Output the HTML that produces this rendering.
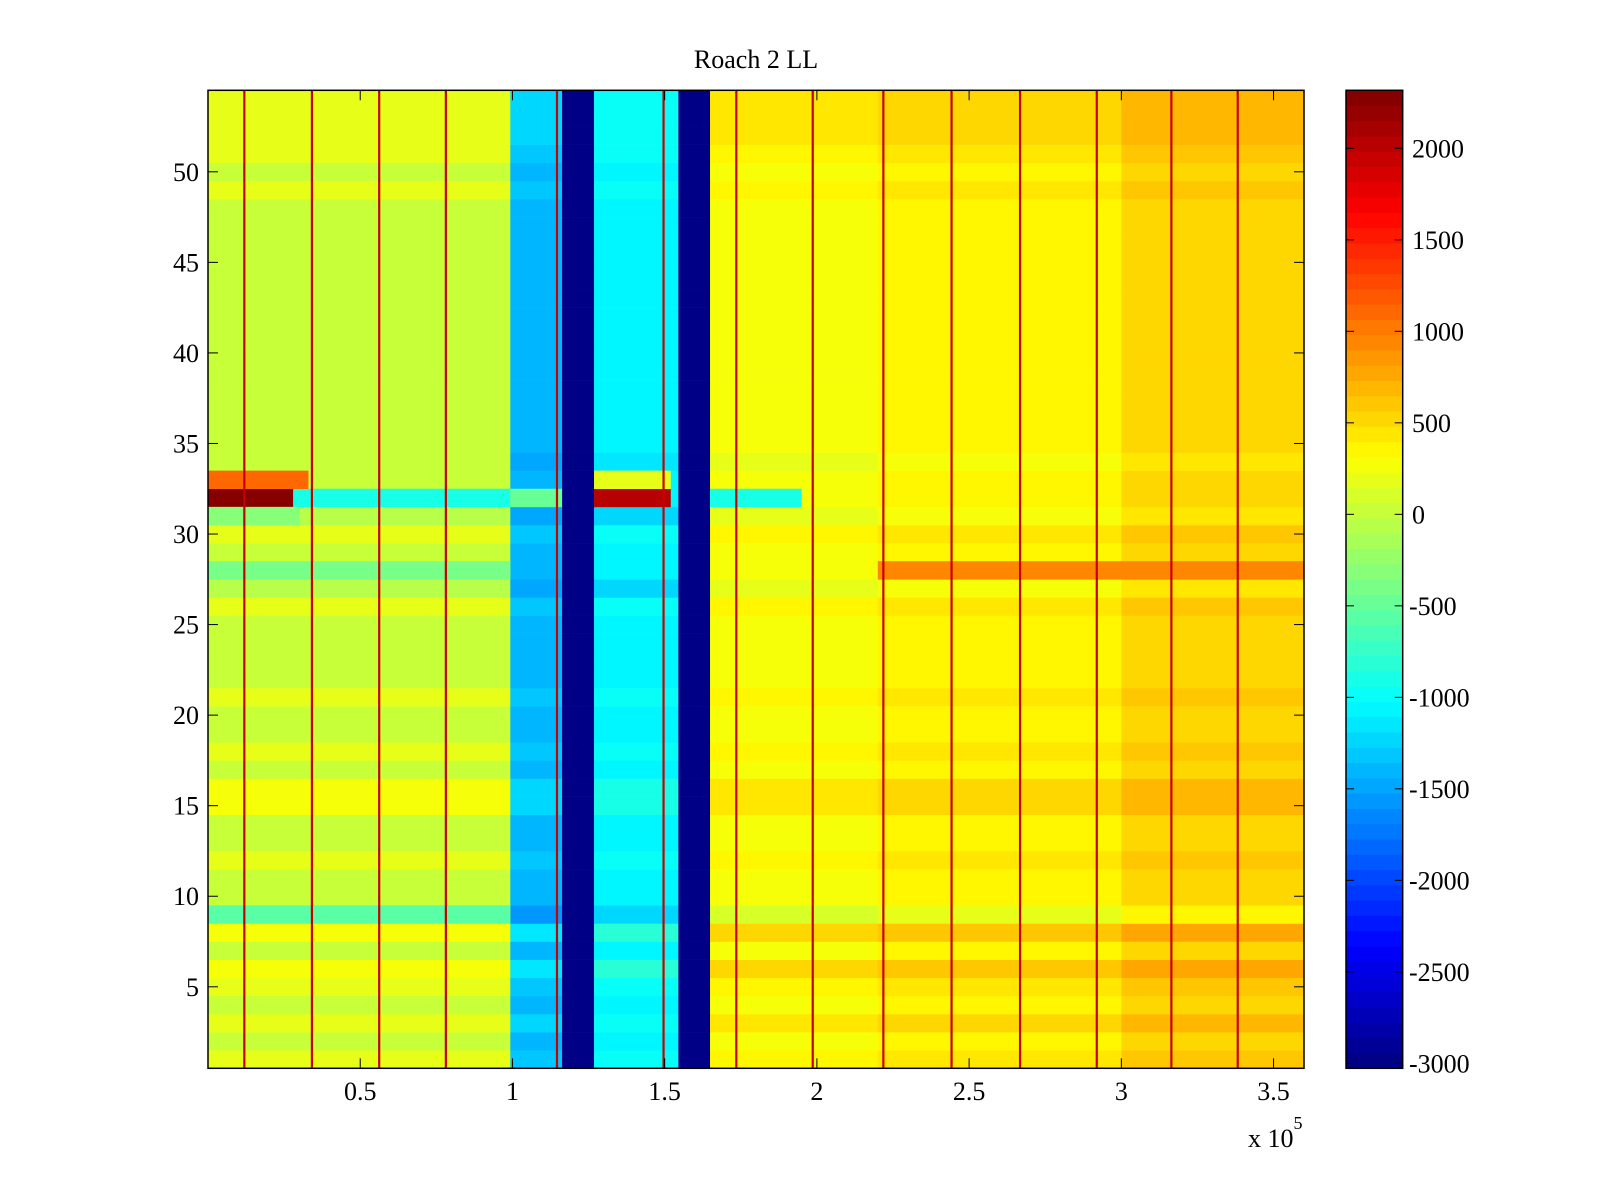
<!DOCTYPE html>
<html><head><meta charset="utf-8"><title>Roach 2 LL</title>
<style>
html,body{margin:0;padding:0;background:#fff;}
svg{display:block;font-family:"Liberation Serif","DejaVu Serif",serif;}
</style></head>
<body>
<svg id="chart" width="1600" height="1200" viewBox="0 0 1600 1200" xmlns="http://www.w3.org/2000/svg">
<rect x="0" y="0" width="1600" height="1200" fill="#fff"/>
<text x="756" y="68" font-size="26" text-anchor="middle">Roach 2 LL</text>
<g id="cells"></g>
<g id="axes"></g>
<g id="cbar"></g>
<text x="1248" y="1147" font-size="26">x 10<tspan font-size="18" dy="-18">5</tspan></text>
</svg>
<script>
// ---- data ----
const segStart = [0, 99300, 116300, 126800, 154500, 164900, 220000, 300000];
const segEnd   = [99300, 116300, 126800, 154500, 164900, 220000, 300000, 360000];
const segValue = [60, -1400, -3000, -1100, -3000, 250, 350, 520];
const rowOffset = [
  100, 0, 150, 0, 100, 250, 0, 250, -150, 0,
  0, 100, 0, 0, 200, 200, 0, 100, 0, 0,
  100, 0, 0, 0, 0, 100, -100, 0, 0, 100,
  -100, 0, 0, -50, 0, 0, 0, 0, 0, 0,
  0, 0, 0, 0, 0, 0, 0, 0, 100, 0,
  100, 150, 150, 150
];
const ovRow   = [32, 32, 32, 32, 32, 33, 33, 28, 28, 9, 31];
const ovStart = [0, 28000, 99300, 126800, 164900, 0, 126800, 220000, 0, 0, 0];
const ovEnd   = [28000, 99300, 116300, 152000, 195000, 33000, 152000, 360000, 99300, 99300, 30000];
const ovValue = [2300, -900, -500, 2000, -900, 1100, 200, 900, -400, -600, -300];
const lineX = [11900, 34100, 56200, 78100, 114600, 149600, 173500, 198600, 221800, 244200, 266700, 291900, 316400, 338200];
const lineValue = 1900;
const xTicks = [0.5, 1, 1.5, 2, 2.5, 3, 3.5];
const yTicks = [5, 10, 15, 20, 25, 30, 35, 40, 45, 50];
const cTicks = [2000, 1500, 1000, 500, 0, -500, -1000, -1500, -2000, -2500, -3000];
const nRows = 54, cMin = -3027, cMax = 2317, xMax = 360000;

// ---- geometry ----
const PL = 208, PR = 1304, PT = 90.3, PB = 1068.3;
const CL = 1346, CR = 1402.7;
const NS = "http://www.w3.org/2000/svg";
const xs = v => PL + v / xMax * (PR - PL);
const ys = r => PB - (r - 0.5) / nRows * (PB - PT);
const cs = v => PB - (v - cMin) / (cMax - cMin) * (PB - PT);
function jet(v) {
  let i = Math.floor((v - cMin) / (cMax - cMin) * 64);
  i = Math.max(0, Math.min(63, i));
  const t = (i + 0.5) / 64;
  const c = x => Math.round(255 * Math.max(0, Math.min(1, x)));
  return `rgb(${c(1.5 - Math.abs(4 * t - 3))},${c(1.5 - Math.abs(4 * t - 2))},${c(1.5 - Math.abs(4 * t - 1))})`;
}
function mk(tag, attrs, parent) {
  const e = document.createElementNS(NS, tag);
  for (const k in attrs) e.setAttribute(k, attrs[k]);
  parent.appendChild(e);
  return e;
}
const cells = document.getElementById('cells');
for (let r = 1; r <= nRows; r++) {
  for (let s = 0; s < segStart.length; s++) {
    let v = segValue[s];
    if (v > -3000) v += rowOffset[r - 1];
    const el = mk('rect', {x: xs(segStart[s]), y: ys(r + 0.5), width: xs(segEnd[s]) - xs(segStart[s]) + 0.3, height: ys(r - 0.5) - ys(r + 0.5) + 0.3, fill: jet(v)}, cells);
    
    
  }
}
for (let k = 0; k < ovRow.length; k++) {
  const r = ovRow[k];
  const el = mk('rect', {x: xs(ovStart[k]), y: ys(r + 0.5), width: xs(ovEnd[k]) - xs(ovStart[k]), height: ys(r - 0.5) - ys(r + 0.5) + 0.3, fill: jet(ovValue[k])}, cells);
  
  
}
for (const lx of lineX) {
  const el = mk('rect', {x: xs(lx) - 1, y: PT, width: 2.2, height: PB - PT, fill: jet(lineValue)}, cells);
  
  
}
// axes
const axes = document.getElementById('axes');
const frame = mk('rect', {x: PL, y: PT, width: PR - PL, height: PB - PT, fill: 'none', stroke: '#000', 'stroke-width': 1.5}, axes);


for (const t of xTicks) {
  const x = xs(t * 1e5);
  mk('line', {x1: x, x2: x, y1: PB, y2: PB - 10, stroke: '#000', 'stroke-width': 1}, axes);
  mk('line', {x1: x, x2: x, y1: PT, y2: PT + 10, stroke: '#000', 'stroke-width': 1}, axes);
  const lb = mk('text', {x: x, y: 1100, 'font-size': 26, 'text-anchor': 'middle'}, axes);
  lb.textContent = String(t);
  
  
}
for (const t of yTicks) {
  const y = ys(t);
  mk('line', {x1: PL, x2: PL + 10, y1: y, y2: y, stroke: '#000', 'stroke-width': 1}, axes);
  mk('line', {x1: PR, x2: PR - 10, y1: y, y2: y, stroke: '#000', 'stroke-width': 1}, axes);
  const lb = mk('text', {x: 199, y: y + 9, 'font-size': 26, 'text-anchor': 'end'}, axes);
  lb.textContent = String(t);
  
  
}
// colorbar
const cbar = document.getElementById('cbar');
for (let i = 0; i < 64; i++) {
  const v0 = cMin + i / 64 * (cMax - cMin), v1 = cMin + (i + 1) / 64 * (cMax - cMin);
  const el = mk('rect', {x: CL, y: cs(v1), width: CR - CL, height: cs(v0) - cs(v1) + 0.4, fill: jet((v0 + v1) / 2)}, cbar);
  
  
}
const cf = mk('rect', {x: CL, y: PT, width: CR - CL, height: PB - PT, fill: 'none', stroke: '#000', 'stroke-width': 1.5}, cbar);


for (const t of cTicks) {
  const y = cs(t);
  mk('line', {x1: CL, x2: CL + 8, y1: y, y2: y, stroke: '#000', 'stroke-width': 1}, cbar);
  mk('line', {x1: CR, x2: CR - 8, y1: y, y2: y, stroke: '#000', 'stroke-width': 1}, cbar);
  const lb = mk('text', {x: t < 0 ? 1409 : 1412, y: y + 9, 'font-size': 26}, cbar);
  lb.textContent = String(t);
  
  
}
</script>
</body></html>
